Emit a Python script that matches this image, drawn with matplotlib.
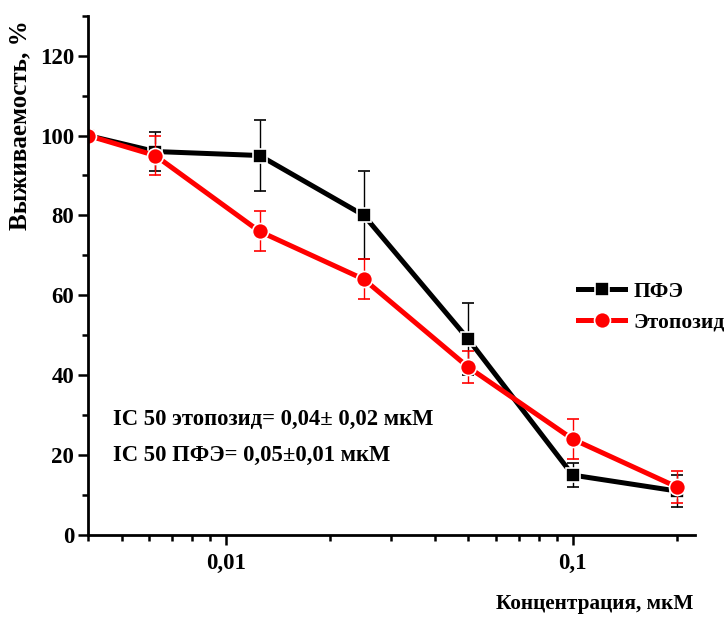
import matplotlib
matplotlib.use("Agg")
import matplotlib.pyplot as plt
from matplotlib.lines import Line2D
from matplotlib.ticker import FixedLocator, FixedFormatter, LogLocator, NullFormatter, MultipleLocator

plt.rcParams['font.family'] = ['Liberation Serif', 'DejaVu Serif']
plt.rcParams['font.weight'] = 'bold'

conc = [0.004, 0.00625, 0.0125, 0.025, 0.05, 0.1, 0.2]
pfe = [100, 96, 95, 80, 49, 15, 11]
pfe_err = [0, 5, 9, 11, 9, 3, 4]
eto = [100, 95, 76, 64, 42, 24, 12]
eto_err = [0, 5, 5, 5, 4, 5, 4]
labels = ['ПФЭ', 'Этопозид']
xtick_vals = [0.01, 0.1]
xtick_labels = ['0,01', '0,1']
ytick_vals = [0, 20, 40, 60, 80, 100, 120]

fig = plt.figure(figsize=(7.27, 6.17), dpi=100)
ax = fig.add_axes([88/727, 1-535/617, (695-88)/727, (535-15.7)/617])

ax.errorbar(conc, pfe, yerr=pfe_err, color='black', lw=3.6, marker='s', ms=10.5,
            mec='white', mew=1.2, ecolor='black', elinewidth=1, capsize=4, capthick=1,
            zorder=3)
ax.errorbar(conc, eto, yerr=eto_err, color='#ff0000', lw=3.6, marker='o', ms=11.5,
            mec='white', mew=1.2, ecolor='#ff0000', elinewidth=1, capsize=4, capthick=1,
            zorder=4)

ax.set_xscale('log')
ax.set_xlim(0.004, 0.2253)
ax.set_ylim(0, 130)

ax.xaxis.set_major_locator(FixedLocator(xtick_vals))
ax.xaxis.set_major_formatter(FixedFormatter(xtick_labels))
ax.xaxis.set_minor_locator(LogLocator(base=10, subs=range(2, 10)))
ax.xaxis.set_minor_formatter(NullFormatter())
ax.yaxis.set_major_locator(FixedLocator(ytick_vals))
ax.yaxis.set_minor_locator(MultipleLocator(10))

for s in ['top', 'right']:
    ax.spines[s].set_visible(False)
for s in ['left', 'bottom']:
    ax.spines[s].set_linewidth(2)
    ax.spines[s].set_zorder(5)

ax.tick_params(which='major', direction='out', length=7, width=1.8, labelsize=16.5, pad=3)
ax.tick_params(which='minor', direction='out', length=4, width=1.8)
ax.tick_params(axis='x', which='major', pad=6)
for lab in ax.get_xticklabels() + ax.get_yticklabels():
    lab.set_fontweight('bold')

fig.text(20/727, 1-125/617, 'Выживаемость, %', rotation=90, ha='center', va='center',
         fontsize=18, fontweight='bold')
fig.text(693/727, 1-604/617, 'Концентрация, мкМ', ha='right', va='center',
         fontsize=15.3, fontweight='bold')

fig.text(113/727, 1-419/617, 'IC 50 этопозид= 0,04± 0,02 мкМ', ha='left', va='center',
         fontsize=16.3, fontweight='bold')
fig.text(113/727, 1-455/617, 'IC 50 ПФЭ= 0,05±0,01 мкМ', ha='left', va='center',
         fontsize=16.3, fontweight='bold')

handles = [
    Line2D([], [], color='black', lw=3.6, marker='s', ms=10.5, mec='white', mew=1.2),
    Line2D([], [], color='#ff0000', lw=3.6, marker='o', ms=11.5, mec='white', mew=1.2),
]
leg = ax.legend(handles, labels, loc='center left', bbox_to_anchor=(578/727, 1-307/617),
                bbox_transform=fig.transFigure, frameon=False, fontsize=15.5,
                handlelength=2.2, handletextpad=0.37, labelspacing=0.5, borderaxespad=0,
                borderpad=0)
for txt in leg.get_texts():
    txt.set_fontweight('bold')

fig.savefig('out.png', dpi=100)
